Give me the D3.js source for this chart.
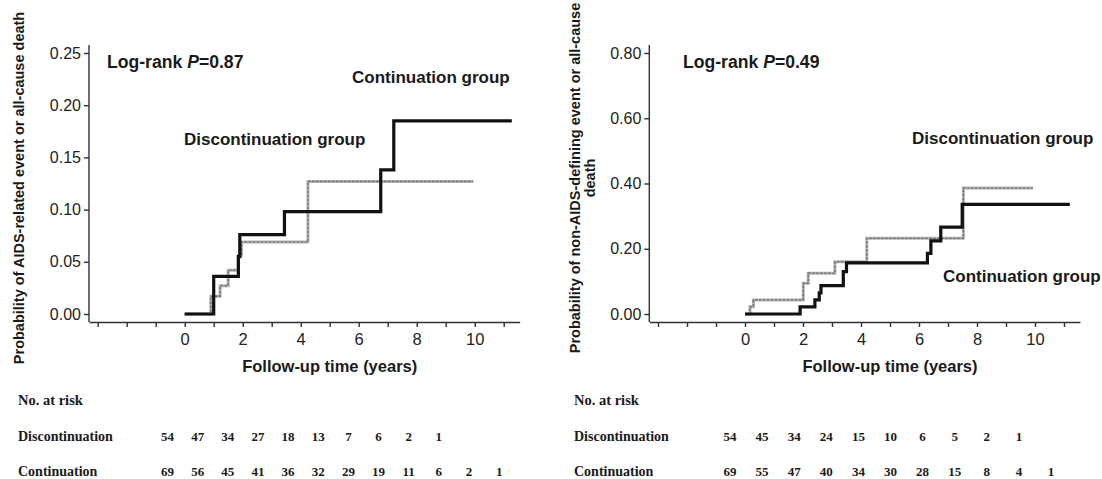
<!DOCTYPE html>
<html>
<head>
<meta charset="utf-8">
<script src="https://cdn.jsdelivr.net/npm/d3@7"></script>
<style>
  body { margin: 0; background: #fff; }
  svg { display: block; }
  .tick text { font-family: "Liberation Sans", Arial, sans-serif; font-size: 16px; fill: #222; }
  .axis path, .axis line { stroke: #333; stroke-width: 1.4; }
  .lbl { font-family: "Liberation Sans", Arial, sans-serif; font-weight: bold; fill: #1a1a1a; }
  .risk { font-family: "Liberation Serif", "Times New Roman", serif; font-weight: bold; fill: #1a1a1a; }
</style>
</head>
<body>
<svg width="1102" height="479"></svg>
<script>
// ---- data ----
// step points [years, cumulative probability]
const aidsContinuation = [[0, 0], [1.0, 0.036], [1.85, 0.055], [1.9, 0.076], [3.44, 0.098], [6.76, 0.138], [7.21, 0.185], [11.28, 0.185]];
const aidsDiscontinuation = [[0, 0], [0.9, 0.017], [1.22, 0.027], [1.5, 0.042], [1.85, 0.056], [1.96, 0.069], [4.25, 0.127], [9.95, 0.127]];
const nonAidsContinuation = [[0, 0], [1.9, 0.022], [2.41, 0.043], [2.56, 0.065], [2.62, 0.087], [3.39, 0.13], [3.5, 0.157], [6.29, 0.186], [6.41, 0.224], [6.75, 0.266], [7.49, 0.336], [11.2, 0.336]];
const nonAidsDiscontinuation = [[0, 0], [0.17, 0.022], [0.29, 0.043], [2.01, 0.094], [2.18, 0.125], [3.1, 0.16], [4.2, 0.232], [7.53, 0.386], [9.93, 0.386]];

const xTicks = [-3, -2, -1, 0, 1, 2, 3, 4, 5, 6, 7, 8, 9, 10, 11];
const xTickLabels = [0, 2, 4, 6, 8, 10];
const aidsYTicks = [0, 0.05, 0.10, 0.15, 0.20, 0.25];
const nonAidsYTicks = [0, 0.20, 0.40, 0.60, 0.80];

const riskAidsDisc = [54, 47, 34, 27, 18, 13, 7, 6, 2, 1];
const riskAidsCont = [69, 56, 45, 41, 36, 32, 29, 19, 11, 6, 2, 1];
const riskNonAidsDisc = [54, 45, 34, 24, 15, 10, 6, 5, 2, 1];
const riskNonAidsCont = [69, 55, 47, 40, 34, 30, 28, 15, 8, 4, 1];

const svg = d3.select("svg");

function drawPanel(cfg) {
    const g = svg.append("g");

    const x = d3.scaleLinear().domain([-3.3, 11.55]).range([cfg.left, cfg.left + 14.85 * 29]);
    const y = d3.scaleLinear().domain(cfg.yDomain).range([314, 53]);

    // x axis
    const xAxis = g.append("g")
        .attr("class", "axis")
        .attr("transform", "translate(0,322)")
        .call(d3.axisBottom(x)
            .tickValues(xTicks)
            .tickSizeInner(5)
            .tickSizeOuter(0)
            .tickFormat(function(d) { return xTickLabels.indexOf(d) >= 0 ? d : ""; }));
    xAxis.selectAll(".tick text").attr("dy", "0.9em").style("font-size", "16.5px");

    // y axis
    const yAxis = g.append("g")
        .attr("class", "axis")
        .attr("transform", "translate(" + cfg.left + ",0)")
        .call(d3.axisLeft(y)
            .tickValues(cfg.yTicks)
            .tickSizeInner(5)
            .tickSizeOuter(0)
            .tickFormat(d3.format(".2f")));
    yAxis.select(".domain").remove();
    g.append("line")
        .attr("x1", cfg.left).attr("x2", cfg.left)
        .attr("y1", 322).attr("y2", y(cfg.yDomain[1]) - 8)
        .attr("stroke", "#333").attr("stroke-width", 1.4);

    const line = d3.line()
        .x(function(d) { return x(d[0]); })
        .y(function(d) { return y(d[1]); })
        .curve(d3.curveStepAfter);

    // discontinuation: grey hatched line
    g.append("path").datum(cfg.disc)
        .attr("d", line).attr("fill", "none")
        .attr("stroke", "#b4b4b4").attr("stroke-width", 3);
    g.append("path").datum(cfg.disc)
        .attr("d", line).attr("fill", "none")
        .attr("stroke", "#6a6a6a").attr("stroke-width", 1.3)
        .attr("stroke-dasharray", "2.5,1.5");

    // continuation: thick black
    g.append("path").datum(cfg.cont)
        .attr("d", line).attr("fill", "none")
        .attr("stroke", "#111").attr("stroke-width", 3.2);

    // annotations
    const lr = g.append("text").attr("class", "lbl")
        .attr("x", cfg.logrank[0]).attr("y", cfg.logrank[1])
        .style("font-size", "17.6px");
    lr.append("tspan").text("Log-rank ");
    lr.append("tspan").attr("font-style", "italic").text("P");
    lr.append("tspan").text("=" + cfg.p);

    cfg.labels.forEach(function(l) {
        g.append("text").attr("class", "lbl")
            .attr("x", l[1]).attr("y", l[2])
            .style("font-size", "17px")
            .text(l[0]);
    });

    g.append("text").attr("class", "lbl")
        .attr("x", x(5)).attr("y", 372)
        .attr("text-anchor", "middle")
        .style("font-size", "16.5px")
        .text("Follow-up time (years)");

    // rotated y title
    cfg.yTitle.forEach(function(t, i) {
        g.append("text").attr("class", "lbl")
            .attr("transform", "translate(" + (cfg.yTitleX + i * 15) + "," + cfg.yTitleY + ") rotate(-90)")
            .attr("text-anchor", "middle")
            .style("font-size", "14.5px")
            .text(t);
    });

    // number at risk table
    const rx = d3.scaleLinear().domain([0, 1]).range([cfg.riskStart, cfg.riskStart + cfg.riskStep]);
    g.append("text").attr("class", "risk").attr("x", cfg.rowX).attr("y", 405)
        .style("font-size", "14.5px").text("No. at risk");
    g.append("text").attr("class", "risk").attr("x", cfg.rowX).attr("y", 441)
        .style("font-size", "14px").text("Discontinuation");
    g.append("text").attr("class", "risk").attr("x", cfg.rowX).attr("y", 476)
        .style("font-size", "14px").text("Continuation");

    g.selectAll(".rd").data(cfg.riskDisc).enter().append("text")
        .attr("class", "risk")
        .attr("x", function(d, i) { return rx(i); })
        .attr("y", 441)
        .attr("text-anchor", "middle")
        .style("font-size", "13px")
        .text(function(d) { return d; });
    g.selectAll(".rc").data(cfg.riskCont).enter().append("text")
        .attr("class", "risk")
        .attr("x", function(d, i) { return rx(i); })
        .attr("y", 476)
        .attr("text-anchor", "middle")
        .style("font-size", "13px")
        .text(function(d) { return d; });
}

drawPanel({
    left: 89,
    yDomain: [0, 0.25],
    yTicks: aidsYTicks,
    cont: aidsContinuation,
    disc: aidsDiscontinuation,
    p: "0.87",
    logrank: [107, 68],
    labels: [["Continuation group", 352, 83], ["Discontinuation group", 184, 145]],
    yTitle: ["Probability of AIDS-related event or all-cause death"],
    yTitleX: 24,
    yTitleY: 188,
    rowX: 18,
    riskStart: 167.5,
    riskStep: 30.15,
    riskDisc: riskAidsDisc,
    riskCont: riskAidsCont
});

drawPanel({
    left: 649.3,
    yDomain: [0, 0.80],
    yTicks: nonAidsYTicks,
    cont: nonAidsContinuation,
    disc: nonAidsDiscontinuation,
    p: "0.49",
    logrank: [683, 68],
    labels: [["Discontinuation group", 912, 144], ["Continuation group", 943, 282]],
    yTitle: ["Probability of non-AIDS-defining event or all-cause", "death"],
    yTitleX: 580,
    yTitleY: 178,
    rowX: 574,
    riskStart: 730,
    riskStep: 32.1,
    riskDisc: riskNonAidsDisc,
    riskCont: riskNonAidsCont
});
</script>
</body>
</html>
